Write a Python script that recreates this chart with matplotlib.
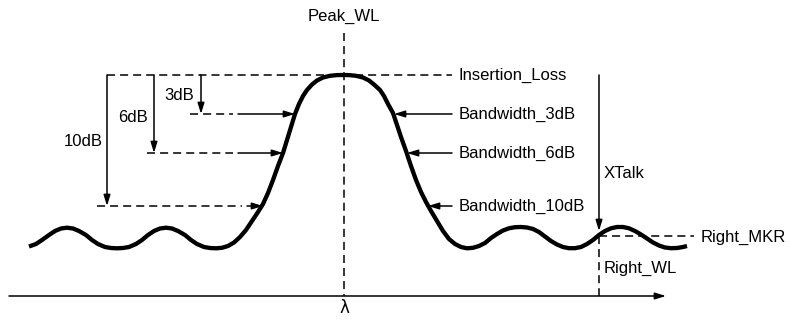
import matplotlib
matplotlib.use("Agg")
import matplotlib.pyplot as plt

plt.rcParams.update({"font.family": "Liberation Sans", "font.size": 12,
                     "lines.scale_dashes": False})

# filter response trace (drawing units, y grows downward)
curve_x = [29, 36, 42, 49, 55, 61, 67, 73, 79, 86, 92, 98, 105, 111, 117,
           123, 129, 136, 142, 148, 154, 160, 166, 172, 178, 185, 191, 197,
           204, 210, 216, 222, 228, 234, 240, 246, 252, 258, 263, 268, 273,
           278, 283, 287, 291, 295, 299, 303, 307, 312, 317, 323, 330, 337,
           343, 349, 356, 363, 369, 374, 380, 384, 388, 393, 397, 401, 406,
           411, 416, 421, 426, 431, 437, 443, 449, 455, 461, 467, 473, 479,
           485, 491, 497, 503, 509, 515, 521, 527, 533, 539, 545, 551, 557,
           563, 569, 575, 581, 587, 593, 599, 605, 611, 617, 623, 629, 635,
           641, 647, 653, 659, 665, 671, 677, 683, 687]
curve_y = [246.5, 244, 240, 235, 231, 228.5, 227.7, 228.5, 231, 235, 240, 244,
           247, 248, 248.3, 248, 247, 244, 240, 235, 231, 228.5, 227.7, 228.5,
           231, 235, 240, 244, 247, 248, 248.3, 247.8, 246, 242.5, 237, 230,
           221, 212, 204, 193, 180, 166, 153, 140, 127, 114, 104, 96, 90, 84.5,
           80.5, 77.5, 75.8, 75.1, 75, 75.1, 75.8, 77.5, 80.5, 84.5, 90, 96,
           104, 113, 125, 137, 151, 166, 180, 192, 202, 211, 221, 231, 239,
           244, 247, 248.3, 247.8, 246, 243, 238, 234, 230.5, 228.3, 227.2,
           227, 227.5, 229, 232, 236.5, 241, 244.5, 247, 248.2, 248.2, 247,
           244, 240, 235, 231, 228.3, 227, 227, 228.3, 231, 234.5, 238.5,
           242.5, 245.5, 247.5, 248.2, 248, 247, 246]

peak_x, peak_y = 344, 75
axis_y = 296
db_labels = ["3dB", "6dB", "10dB"]
db_level_y = [114, 153, 206]          # y of each bandwidth level
db_drop_x = [201, 154, 107]           # x of the vertical drop arrows
db_dash_start = [190, 147, 97]
db_left_hit = [295, 283, 263]         # left edge crossings
db_solid_start = [238, 238, 247]
db_right_hit = [394, 407, 428]        # right edge crossings
db_label_pos = [(194, 96), (148, 117), (103, 141)]
bw_names = ["Bandwidth_3dB", "Bandwidth_6dB", "Bandwidth_10dB"]
label_x = 459
xtalk_x, mkr_y = 599, 236

DASH = (0, (5.8, 3.6))
LW = 1.1


def arrow(ax, x0, y0, x1, y1):
    ax.annotate("", xy=(x1, y1), xytext=(x0, y0),
                arrowprops=dict(arrowstyle="-|>,head_length=0.65,head_width=0.2",
                                mutation_scale=10, lw=LW, color="black",
                                shrinkA=0, shrinkB=0))


fig = plt.figure(figsize=(7.9, 3.2), dpi=100)
ax = fig.add_axes([0, 0, 1, 1])
ax.set_xlim(0, 790)
ax.set_ylim(320, 0)
ax.axis("off")

# trace
ax.plot(curve_x, curve_y, color="black", lw=3.1, solid_joinstyle="round",
        solid_capstyle="butt", zorder=3)

# wavelength axis
arrow(ax, 9, axis_y, 666, axis_y)
ax.text(peak_x, 308, "λ", ha="center", va="center", family="DejaVu Sans")

# peak wavelength + insertion loss
ax.plot([peak_x, peak_x], [33, axis_y], color="black", lw=LW, ls=DASH)
ax.text(peak_x, 16, "Peak_WL", ha="center", va="center")
ax.plot([107, 452], [peak_y, peak_y], color="black", lw=LW, ls=DASH)
ax.text(label_x, peak_y, "Insertion_Loss", ha="left", va="center")

# bandwidth levels
for i in range(3):
    y = db_level_y[i]
    arrow(ax, db_drop_x[i], peak_y, db_drop_x[i], y)
    ax.plot([db_dash_start[i], db_solid_start[i] - 5], [y, y],
            color="black", lw=LW, ls=DASH)
    arrow(ax, db_solid_start[i], y, db_left_hit[i], y)
    arrow(ax, 452, y, db_right_hit[i], y)
    lx, ly = db_label_pos[i]
    ax.text(lx, ly, db_labels[i], ha="right", va="center")
    ax.text(label_x, y, bw_names[i], ha="left", va="center")

# crosstalk marker
arrow(ax, xtalk_x, peak_y, xtalk_x, 231)
ax.text(604, 173, "XTalk", ha="left", va="center")
ax.plot([xtalk_x, 694], [mkr_y, mkr_y], color="black", lw=LW, ls=DASH)
ax.text(701, 237, "Right_MKR", ha="left", va="center")
ax.plot([xtalk_x, xtalk_x], [mkr_y, axis_y], color="black", lw=LW, ls=DASH)
ax.text(604, 268, "Right_WL", ha="left", va="center")

fig.savefig("out.png", dpi=100, facecolor="white")
